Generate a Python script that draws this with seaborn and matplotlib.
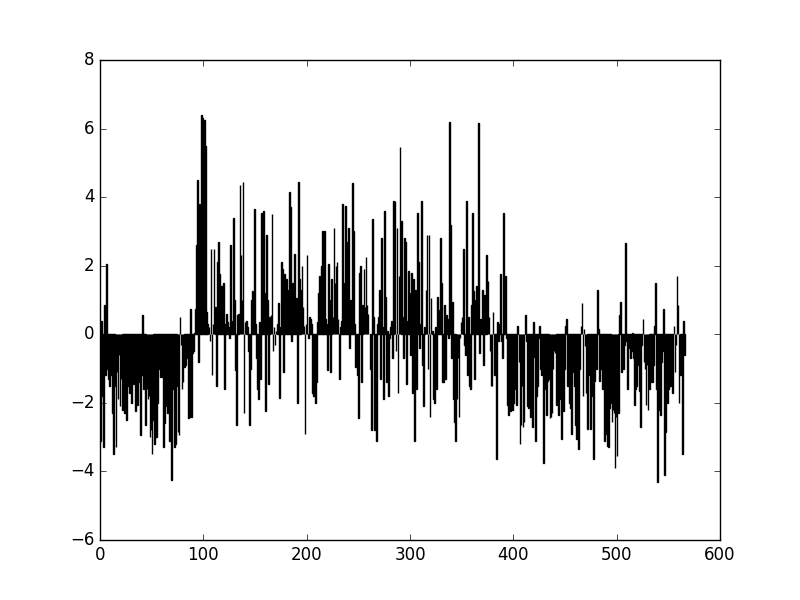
import numpy as np
import pandas as pd
import seaborn as sns
import matplotlib
matplotlib.use("Agg")
import matplotlib.pyplot as plt

# values, one per bar (index 0..565)
vals_000 = [-3.1, 0.4, -1.8, -3.3, 0.85, -1.2, 2.05, -1.0, -1.3, -1.5,
            -0.9, -1.2, -2.3, -3.5, -1.5, -3.3, -1.1, -1.9, -0.6, -2.1,
            -1.3, -2.2, -1.5, -2.3, -1.2, -2.5, -1.0, -1.5, -1.7, -1.1,
            -2.0, -1.0, -1.45, -0.9, -2.25, -1.3, -2.05, -1.4, -0.9, -2.95,
            -1.2, 0.55, -1.6, -1.1, -2.65, -1.6, -1.9, -1.8, -3.0, -2.8]
vals_050 = [-3.5, -2.5, -3.2, -3.0, -3.0, -2.0, -0.2, -1.0, -1.25, -1.2,
            -1.25, -3.3, -2.6, -2.1, -1.5, -2.3, -2.2, -3.1, -2.0, -4.25,
            -1.6, -1.2, -3.3, -3.2, -1.5, -2.85, -2.95, 0.5, -0.3, -1.6,
            -1.4, -0.95, -0.9, -0.7, -0.6, -2.45, -2.4, 0.75, -2.4, -0.55,
            -0.5, 0.05, 0.75, 2.6, 4.5, -0.8, 3.8, 2.0, 6.4, 6.3]
vals_100 = [2.0, 6.25, 5.5, 0.65, 0.3, 0.2, -0.2, 2.5, -1.2, 0.3,
            2.5, 0.8, -1.5, 2.1, 2.7, 1.75, 0.9, 1.4, 1.1, 1.5,
            -1.6, 0.3, 0.6, 0.35, 0.2, -0.1, 2.6, 0.4, 0.3, 3.4,
            1.0, -1.05, -2.65, 0.55, 0.6, 4.35, 2.3, 1.0, 4.45, -2.3,
            0.35, 0.4, 0.2, -0.5, -2.65, -1.0, 1.0, 1.25, 1.2, 3.65]
vals_150 = [0.3, -0.7, -1.6, -1.9, 0.35, -1.3, 3.55, 3.4, 3.6, 1.2,
            -2.25, 2.9, 1.0, -1.45, 0.5, 0.55, 3.5, -0.5, 0.2, -0.3,
            0.1, 0.3, 0.9, -1.85, 0.2, 2.1, 1.9, -1.1, 1.75, 1.5,
            1.6, 1.0, 1.3, 4.15, 3.7, -0.2, 1.5, 1.2, 2.35, 1.0,
            1.05, -2.0, 4.45, 1.6, 1.3, 2.0, 0.8, 0.25, -2.9, 0.3]
vals_200 = [2.3, -0.1, 0.5, 0.45, 0.3, -1.7, -1.8, -1.8, -2.0, -1.4,
            0.35, 1.2, 1.7, 1.5, 2.0, 3.0, 2.9, 3.0, 0.45, 0.3,
            -1.05, 2.05, 1.0, -1.1, 1.6, 0.5, 3.1, 1.5, 2.0, 2.1,
            0.45, -1.3, 0.2, 0.4, 3.8, 0.8, 1.5, 3.75, 1.7, 2.7,
            3.1, -0.4, 1.0, 0.9, 4.4, 3.0, 0.3, -0.95, -0.9, -1.2]
vals_250 = [-2.45, 1.8, 2.0, -1.4, 0.85, 1.9, 0.8, 2.25, 0.85, 0.6,
            0.0, -1.0, -2.8, 3.35, 0.5, -2.8, -0.95, -3.1, 0.3, 0.5,
            1.3, -1.3, 2.8, 0.2, -1.9, 3.6, 1.1, -1.4, 0.1, -1.8,
            -0.1, 0.2, 0.4, -0.7, 3.9, 3.9, -0.5, 3.1, -1.7, 1.7,
            5.45, 3.3, 0.5, -0.7, 2.8, 2.7, -1.45, 0.4, 1.85, 1.2]
vals_300 = [-0.6, 1.8, -1.7, 1.6, -3.1, 1.3, -1.6, 3.55, 2.1, -0.4,
            0.3, 3.9, -0.9, -2.1, 0.2, 1.3, 2.9, -1.0, 2.9, -2.4,
            1.05, 0.1, -1.9, -2.0, 0.2, -1.6, 1.1, 0.7, 0.3, 2.8,
            1.5, -1.4, -1.4, 0.85, -1.3, 0.55, 0.45, -0.1, 6.2, 3.2,
            -0.7, 0.95, -1.9, -2.55, -3.1, -1.9, -0.7, -2.4, -0.1, 0.35]
vals_350 = [0.5, 2.5, -0.3, -0.6, 3.9, -1.2, 0.5, -1.5, -1.6, 0.85,
            3.55, 1.25, -1.3, 1.0, 1.4, 0.35, 6.15, -0.55, 0.45, 0.2,
            1.3, -0.9, 1.15, 0.25, 2.3, 1.55, 0.5, -0.5, -1.5, -1.5,
            0.65, -1.2, -0.1, -3.65, 0.35, -0.2, 0.3, 1.75, -0.2, -0.7,
            3.55, 0.2, 1.7, -0.1, -2.05, -2.35, -1.0, -2.25, -1.8, -2.2]
vals_400 = [-2.0, -1.6, -1.2, -2.05, 0.25, -0.8, -3.2, -2.65, -1.5, -2.7,
            -2.55, 0.55, -0.2, -2.1, -2.15, -1.0, -2.4, -1.2, -2.7, 0.35,
            -0.65, -3.1, -1.8, -1.5, -0.1, 0.25, -1.0, -1.2, -1.0, -3.75,
            -1.6, -1.6, -2.35, -1.35, -1.3, -2.45, -2.4, -2.3, -1.0, -0.5,
            -0.55, -2.05, -1.0, -2.35, -1.9, -1.2, -3.05, -1.8, -2.25, -1.0]
vals_450 = [0.25, 0.45, -1.5, -1.0, -2.0, -2.15, -2.9, -0.8, -1.1, -1.5,
            -2.65, -3.05, -3.0, -3.35, -1.0, 0.25, 0.9, -1.8, 0.15, -0.35,
            -1.7, -2.75, -0.2, -1.2, -2.75, -1.5, -1.8, -3.65, -1.35, -0.4,
            -1.0, 1.3, 0.15, -1.35, -1.0, -1.0, -1.6, -1.4, -3.1, -2.9,
            -2.85, -3.25, -3.3, -2.15, -2.0, -2.55, -2.2, -2.3, -3.9, -2.4]
vals_500 = [-3.55, -2.3, 0.55, 0.95, -1.1, -0.6, -1.0, -0.3, 2.65, -0.2,
            -1.6, -0.3, -0.4, -0.7, -0.5, 0.05, -0.7, -2.05, -1.6, -1.5,
            -0.5, -0.9, -1.65, -2.7, -0.3, 0.45, -0.8, -1.0, -2.05, -0.9,
            -2.2, -1.6, -1.4, -1.2, -1.4, -0.9, 0.25, 1.5, -1.6, -4.3,
            -2.2, -0.8, -2.35, -0.8, -0.5, 0.75, -4.1, -2.85, -0.9, -2.0]
vals_550 = [-1.6, -1.5, -1.5, -1.45, -1.7, 0.25, -1.1, -0.3, 1.7, 0.85,
            -2.0, -1.2, -0.8, -3.5, 0.4, -0.6]

values = (vals_000 + vals_050 + vals_100 + vals_150 + vals_200 + vals_250
          + vals_300 + vals_350 + vals_400 + vals_450 + vals_500 + vals_550)
df = pd.DataFrame({"i": np.arange(len(values)) + 0.4, "v": values})

plt.style.use("classic")
fig, ax = plt.subplots(figsize=(8, 6), dpi=100)
fig.patch.set_facecolor("white")

sns.barplot(data=df, x="i", y="v", native_scale=True, color="black",
            saturation=1, width=0.8, edgecolor="black", linewidth=1.0,
            errorbar=None, ax=ax)

ax.set_xlim(0, 600)
ax.set_ylim(-6, 8)
ax.set_xticks(range(0, 601, 100))
ax.set_yticks(range(-6, 9, 2))
ax.set_xlabel("")
ax.set_ylabel("")

plt.savefig("out.png", dpi=100, facecolor="white")
